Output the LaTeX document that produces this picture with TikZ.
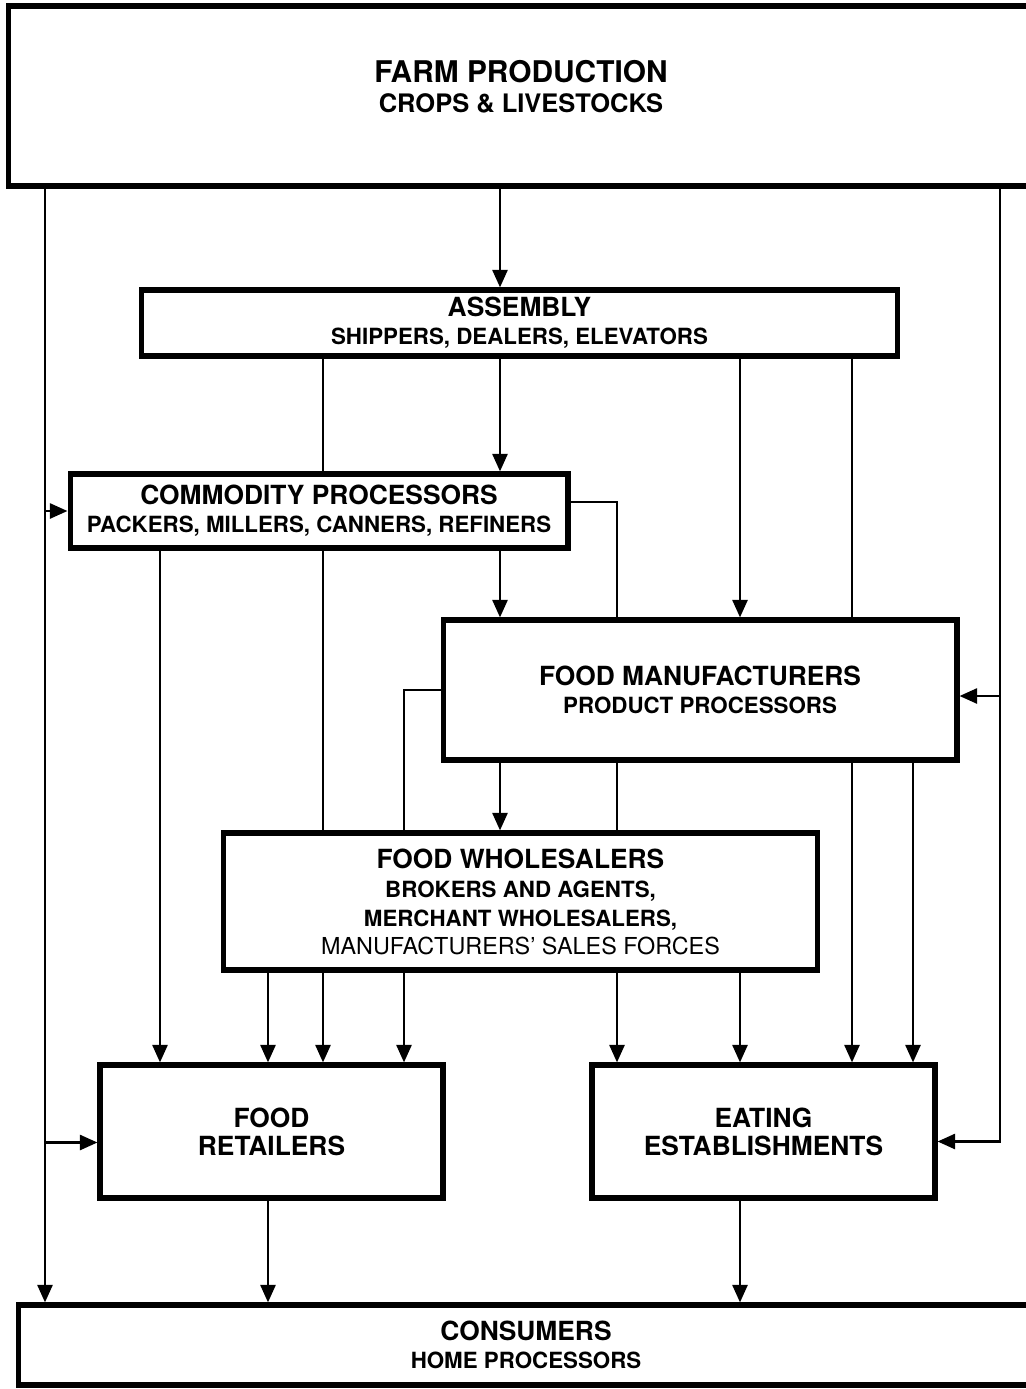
\documentclass[tikz,border=0pt]{standalone}
\usepackage{fontspec}
\setmainfont{TeX Gyre Heros}
\usetikzlibrary{arrows.meta}
\newcommand{\stagename}[1]{{\fontsize{15}{16}\selectfont\bfseries #1}}
\newcommand{\stagesub}[1]{{\fontsize{12.7}{16}\selectfont\bfseries #1}}

\begin{document}
\begin{tikzpicture}[x=0.02cm,y=-0.02cm,
	font=\fontsize{12.7}{16}\selectfont,
	stage/.style={draw,line width=2.9pt,align=center,inner sep=2pt},
	link/.style={line width=1.6pt},
	flow/.style={link,-{Triangle[length=10pt,width=8.5pt]}}]
	\clip (0,0) rectangle (1026,1389);

	% columns of the flow lines
	\foreach \n/\x in {1/45,2/160,3/268,4/323,5/404,6/500,7/617,8/740,9/852,10/913,11/1000}
		\coordinate (col\n) at (\x,0);

	\node[stage,minimum width=20.52cm,minimum height=3.6cm] (farm) at (521,96)
		{{\fontsize{17}{17}\selectfont\bfseries FARM PRODUCTION}\\[1pt]{\fontsize{14.5}{16}\selectfont\bfseries CROPS \& LIVESTOCKS}\rule[-0.4cm]{0pt}{0.4cm}};
	\node[stage,minimum width=15.14cm,minimum height=1.32cm] (assembly) at (519.5,323)
		{\stagename{ASSEMBLY}\\\stagesub{SHIPPERS, DEALERS, ELEVATORS}};
	\node[stage,minimum width=9.96cm,minimum height=1.48cm] (commodity) at (319,511)
		{\stagename{COMMODITY PROCESSORS}\\\stagesub{PACKERS, MILLERS, CANNERS, REFINERS}};
	\node[stage,minimum width=10.28cm,minimum height=2.8cm] (manuf) at (700,690)
		{\stagename{FOOD MANUFACTURERS}\\\stagesub{PRODUCT PROCESSORS}};
	\node[stage,minimum width=11.9cm,minimum height=2.74cm] (whole) at (520.5,901.5)
		{\stagename{FOOD WHOLESALERS}\\[1pt]\stagesub{BROKERS AND AGENTS,}\\\stagesub{MERCHANT WHOLESALERS,}\\{\fontsize{13.3}{16}\selectfont MANUFACTURERS' SALES FORCES}};
	\node[stage,minimum width=6.86cm,minimum height=2.66cm] (retail) at (271.5,1131.5)
		{\stagename{FOOD}\\\stagename{RETAILERS}};
	\node[stage,minimum width=6.86cm,minimum height=2.66cm] (eating) at (763.5,1131.5)
		{\stagename{EATING}\\\stagename{ESTABLISHMENTS}};
	\node[stage,minimum width=20.32cm,minimum height=1.6cm] (consumers) at (526,1345)
		{\stagename{CONSUMERS}\\\stagesub{HOME PROCESSORS}};

	\coordinate (retin) at ([yshift=-0.22cm]retail.west);
	\coordinate (eatin) at ([yshift=-0.2cm]eating.east);
	\coordinate (manin) at ([yshift=-0.12cm]manuf.east);

	% direct farm channels
	\draw[flow] (farm.south -| col6) -- (assembly.north -| col6);
	\draw[flow] (farm.south -| col1) -- (consumers.north -| col1);
	\draw[flow] (col1 |- commodity.west) -- (commodity.west);
	\draw[flow] (col1 |- retin) -- (retin);
	\draw[flow] (farm.south -| col11) |- (eatin);
	\draw[flow] (col11 |- manin) -- (manin);

	% assembly
	\draw[flow] (assembly.south -| col6) -- (commodity.north -| col6);
	\draw[flow] (assembly.south -| col8) -- (manuf.north -| col8);
	\draw[link] (assembly.south -| col4) -- (commodity.north -| col4);
	\draw[link] (assembly.south -| col9) -- (manuf.north -| col9);

	% commodity processors
	\draw[flow] (commodity.south -| col2) -- (retail.north -| col2);
	\draw[flow] (commodity.south -| col6) -- (manuf.north -| col6);
	\draw[link] (commodity.south -| col4) -- (whole.north -| col4);
	\draw[link] ([yshift=0.18cm]commodity.east) -| (manuf.north -| col7);

	% food manufacturers
	\draw[flow] (manuf.south -| col6) -- (whole.north -| col6);
	\draw[flow] (manuf.south -| col9) -- (eating.north -| col9);
	\draw[flow] (manuf.south -| col10) -- (eating.north -| col10);
	\draw[link] (manuf.south -| col7) -- (whole.north -| col7);
	\draw[link] (manuf.west) -| (whole.north -| col5);

	% wholesalers
	\draw[flow] (whole.south -| col3) -- (retail.north -| col3);
	\draw[flow] (whole.south -| col4) -- (retail.north -| col4);
	\draw[flow] (whole.south -| col5) -- (retail.north -| col5);
	\draw[flow] (whole.south -| col7) -- (eating.north -| col7);
	\draw[flow] (whole.south -| col8) -- (eating.north -| col8);

	% to consumers
	\draw[flow] (retail.south -| col3) -- (consumers.north -| col3);
	\draw[flow] (eating.south -| col8) -- (consumers.north -| col8);
\end{tikzpicture}
\end{document}
